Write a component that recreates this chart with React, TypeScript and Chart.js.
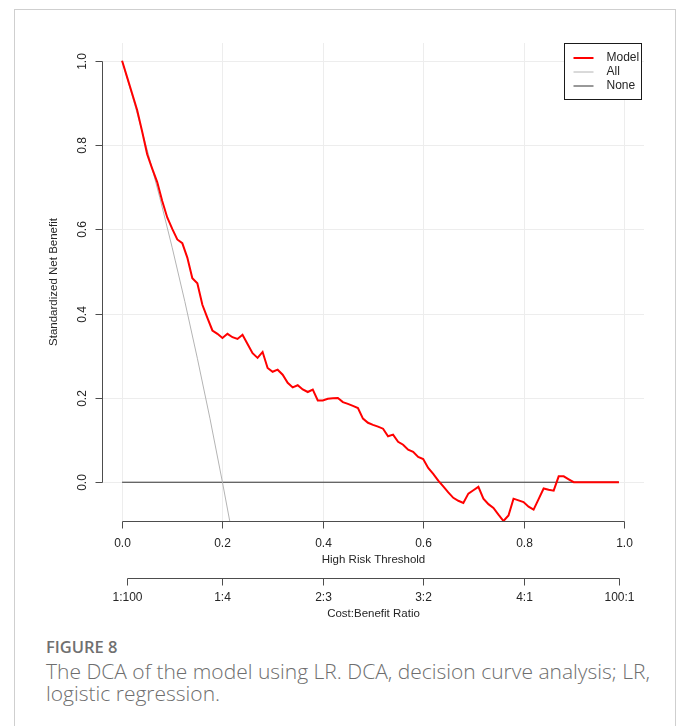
import React, { useEffect, useRef } from "react";
import { Chart, registerables } from "chart.js";

Chart.register(...registerables);

// Threshold probabilities for the model curve
const thresholds = [
  0.0, 0.01, 0.02, 0.03, 0.04, 0.05, 0.06, 0.07, 0.08, 0.09,
  0.1, 0.11, 0.12, 0.13, 0.14, 0.15, 0.16, 0.17, 0.18, 0.19,
  0.2, 0.21, 0.22, 0.23, 0.24, 0.25, 0.26, 0.27, 0.28, 0.29,
  0.3, 0.31, 0.32, 0.33, 0.34, 0.35, 0.36, 0.37, 0.38, 0.39,
  0.4, 0.41, 0.42, 0.43, 0.44, 0.45, 0.46, 0.47, 0.48, 0.49,
  0.5, 0.51, 0.52, 0.53, 0.54, 0.55, 0.56, 0.57, 0.58, 0.59,
  0.6, 0.61, 0.62, 0.63, 0.64, 0.65, 0.66, 0.67, 0.68, 0.69,
  0.7, 0.71, 0.72, 0.73, 0.74, 0.75, 0.76, 0.77, 0.78, 0.79,
  0.8, 0.81, 0.82, 0.83, 0.84, 0.85, 0.86, 0.87, 0.88, 0.89,
  0.9, 0.91, 0.92, 0.93, 0.94, 0.95, 0.96, 0.97, 0.98, 0.99,
];

// Standardized net benefit of the LR model
const modelBenefit = [
  1.0, 0.961, 0.922, 0.883, 0.832, 0.778, 0.744, 0.712, 0.667, 0.628,
  0.601, 0.576, 0.567, 0.533, 0.484, 0.472, 0.421, 0.39, 0.36, 0.352,
  0.342, 0.352, 0.344, 0.34, 0.35, 0.328, 0.306, 0.295, 0.309, 0.271,
  0.262, 0.267, 0.255, 0.236, 0.225, 0.23, 0.22, 0.214, 0.22, 0.194,
  0.194, 0.198, 0.199, 0.2, 0.19, 0.186, 0.181, 0.176, 0.151, 0.141,
  0.136, 0.132, 0.127, 0.109, 0.113, 0.096, 0.089, 0.077, 0.072, 0.06,
  0.055, 0.034, 0.02, 0.004, -0.01, -0.024, -0.037, -0.044, -0.049, -0.027,
  -0.019, -0.011, -0.039, -0.052, -0.061, -0.077, -0.092, -0.079, -0.039, -0.043,
  -0.047, -0.058, -0.065, -0.04, -0.015, -0.018, -0.02, 0.014, 0.014, 0.007,
  0.0, 0.0, 0.0, 0.0, 0.0, 0.0, 0.0, 0.0, 0.0, 0.0,
];

// Treat-all reference curve
const allThresholds = [0.0, 0.025, 0.05, 0.075, 0.1, 0.125, 0.15, 0.175, 0.2, 0.2145];
const allBenefit = [1.0, 0.897, 0.789, 0.676, 0.556, 0.429, 0.294, 0.152, 0.0, -0.092];

// Treat-none reference line
const noneThresholds = [0.0, 0.99];
const noneBenefit = [0.0, 0.0];

// Axis ticks
const xTicks = [0.0, 0.2, 0.4, 0.6, 0.8, 1.0];
const xTickLabels = ["0.0", "0.2", "0.4", "0.6", "0.8", "1.0"];
const yTicks = [0.0, 0.2, 0.4, 0.6, 0.8, 1.0];
const yTickLabels = ["0.0", "0.2", "0.4", "0.6", "0.8", "1.0"];
const costTicks = [0.0099, 0.2, 0.4, 0.6, 0.8, 0.9901];
const costTickLabels = ["1:100", "1:4", "2:3", "3:2", "4:1", "100:1"];

const legendLabels = ["Model", "All", "None"];
const seriesColors = ["#ff0000", "#b4b4b4", "#333333"];
const seriesWidths = [2, 1, 1];

const FONT = '"Liberation Sans", Arial, sans-serif';
const INK = "#262626";
const AXIS = "#4d4d4d";

const rAxesPlugin = {
  id: "rAxes",
  beforeDatasetsDraw(chart: any) {
    const { ctx, chartArea, scales } = chart;
    const xs = scales.x;
    const ys = scales.y;
    ctx.save();
    ctx.strokeStyle = "#ededed";
    ctx.lineWidth = 1;
    for (const v of xTicks) {
      const px = Math.round(xs.getPixelForValue(v)) + 0.5;
      ctx.beginPath();
      ctx.moveTo(px, chartArea.top);
      ctx.lineTo(px, chartArea.bottom);
      ctx.stroke();
    }
    for (const v of yTicks) {
      const py = Math.round(ys.getPixelForValue(v)) + 0.5;
      ctx.beginPath();
      ctx.moveTo(chartArea.left, py);
      ctx.lineTo(chartArea.right, py);
      ctx.stroke();
    }
    ctx.restore();
  },
  afterDraw(chart: any) {
    const { ctx, chartArea, scales } = chart;
    const xs = scales.x;
    const ys = scales.y;
    ctx.save();
    ctx.strokeStyle = AXIS;
    ctx.lineWidth = 1;
    ctx.fillStyle = INK;

    // y axis
    const ax = Math.round(chartArea.left) + 0.5;
    const y0 = Math.round(ys.getPixelForValue(yTicks[0])) + 0.5;
    const y1 = Math.round(ys.getPixelForValue(yTicks[yTicks.length - 1])) + 0.5;
    ctx.beginPath();
    ctx.moveTo(ax, y0);
    ctx.lineTo(ax, y1);
    ctx.stroke();
    ctx.font = `12px ${FONT}`;
    ctx.textAlign = "center";
    ctx.textBaseline = "middle";
    yTicks.forEach((v, i) => {
      const py = Math.round(ys.getPixelForValue(v)) + 0.5;
      ctx.beginPath();
      ctx.moveTo(ax - 7, py);
      ctx.lineTo(ax, py);
      ctx.stroke();
      ctx.save();
      ctx.translate(ax - 20, py);
      ctx.rotate(-Math.PI / 2);
      ctx.fillText(yTickLabels[i], 0, 0);
      ctx.restore();
    });
    ctx.save();
    ctx.font = `11.5px ${FONT}`;
    ctx.translate(ax - 49, (chartArea.top + chartArea.bottom) / 2);
    ctx.rotate(-Math.PI / 2);
    ctx.fillText("Standardized Net Benefit", 0, 0);
    ctx.restore();

    // threshold axis
    const by = Math.round(chartArea.bottom) + 0.5;
    const xa = Math.round(xs.getPixelForValue(xTicks[0])) + 0.5;
    const xb = Math.round(xs.getPixelForValue(xTicks[xTicks.length - 1])) + 0.5;
    ctx.beginPath();
    ctx.moveTo(xa, by);
    ctx.lineTo(xb, by);
    ctx.stroke();
    ctx.font = `12px ${FONT}`;
    xTicks.forEach((v, i) => {
      const px = Math.round(xs.getPixelForValue(v)) + 0.5;
      ctx.beginPath();
      ctx.moveTo(px, by);
      ctx.lineTo(px, by + 7);
      ctx.stroke();
      ctx.fillText(xTickLabels[i], px, by + 22);
    });
    ctx.font = `11.5px ${FONT}`;
    ctx.fillText("High Risk Threshold", (xa + xb) / 2, by + 38);

    // cost:benefit axis
    const cy = by + 57;
    const ca = Math.round(xs.getPixelForValue(costTicks[0])) + 0.5;
    const cb = Math.round(xs.getPixelForValue(costTicks[costTicks.length - 1])) + 0.5;
    ctx.beginPath();
    ctx.moveTo(ca, cy);
    ctx.lineTo(cb, cy);
    ctx.stroke();
    ctx.font = `12px ${FONT}`;
    costTicks.forEach((v, i) => {
      const px = Math.round(xs.getPixelForValue(v)) + 0.5;
      ctx.beginPath();
      ctx.moveTo(px, cy);
      ctx.lineTo(px, cy + 7);
      ctx.stroke();
      ctx.fillText(costTickLabels[i], px, cy + 19);
    });
    ctx.font = `11.5px ${FONT}`;
    ctx.fillText("Cost:Benefit Ratio", (xa + xb) / 2, cy + 35);

    // legend box
    const lw = 77;
    const lh = 56;
    const lx = Math.round(chartArea.right - 3 - lw) + 0.5;
    const ly = Math.round(chartArea.top) + 0.5;
    ctx.strokeStyle = "#1a1a1a";
    ctx.fillStyle = "#ffffff";
    ctx.fillRect(lx, ly, lw, lh);
    ctx.strokeRect(lx, ly, lw, lh);
    ctx.font = `12px ${FONT}`;
    ctx.textAlign = "left";
    legendLabels.forEach((label, i) => {
      const ry = Math.round(ly + 14 + i * 14);
      ctx.strokeStyle = seriesColors[i];
      ctx.lineWidth = seriesWidths[i];
      ctx.beginPath();
      ctx.moveTo(lx + 9, ry);
      ctx.lineTo(lx + 29, ry);
      ctx.stroke();
      ctx.fillStyle = INK;
      ctx.fillText(label, lx + 42, ry);
    });
    ctx.restore();
  },
};

const toPoints = (xsArr: number[], ysArr: number[]) =>
  xsArr.map((x, i) => ({ x, y: ysArr[i] }));

export default function App() {
  const canvasRef = useRef<HTMLCanvasElement | null>(null);

  useEffect(() => {
    if (!canvasRef.current) return;
    const chart = new Chart(canvasRef.current, {
      type: "line",
      data: {
        datasets: [
          {
            label: legendLabels[0],
            data: toPoints(thresholds, modelBenefit),
            borderColor: seriesColors[0],
            borderWidth: seriesWidths[0],
            pointRadius: 0,
            tension: 0,
            fill: false,
          },
          {
            label: legendLabels[1],
            data: toPoints(allThresholds, allBenefit),
            borderColor: seriesColors[1],
            borderWidth: seriesWidths[1],
            pointRadius: 0,
            tension: 0,
            fill: false,
          },
          {
            label: legendLabels[2],
            data: toPoints(noneThresholds, noneBenefit),
            borderColor: seriesColors[2],
            borderWidth: seriesWidths[2],
            pointRadius: 0,
            tension: 0,
            fill: false,
          },
        ],
      },
      options: {
        responsive: false,
        animation: false,
        parsing: false as any,
        layout: { padding: { left: 87, right: 31, top: 33, bottom: 109 } },
        scales: {
          x: { type: "linear", min: -0.04, max: 1.04, display: false },
          y: { type: "linear", min: -0.092, max: 1.042, display: false },
        },
        plugins: {
          legend: { display: false },
          tooltip: { enabled: false },
        },
      },
      plugins: [rAxesPlugin],
    });
    return () => chart.destroy();
  }, []);

  return (
    <div
      style={{
        position: "absolute",
        left: 14,
        top: 9,
        width: 660,
        height: 716,
        borderTop: "1px solid #cfcfcf",
        borderLeft: "1px solid #cfcfcf",
        borderRight: "1px solid #cfcfcf",
        background: "#ffffff",
      }}
    >
      <canvas
        ref={canvasRef}
        width={660}
        height={620}
        style={{ position: "absolute", left: 0, top: 0, width: 660, height: 620 }}
      />
      <div
        style={{
          position: "absolute",
          left: 31,
          top: 627,
          width: 625,
          fontFamily: '"Open Sans", "Noto Sans", sans-serif',
          color: "#6e6e6e",
        }}
      >
        <div style={{ fontSize: 16.5, lineHeight: "20px", fontWeight: 600, color: "#707070" }}>
          FIGURE 8
        </div>
        <div style={{ fontSize: 21, lineHeight: "22px", fontWeight: 300, marginTop: 3 }}>
          The DCA of the model using LR. DCA, decision curve analysis; LR, logistic regression.
        </div>
      </div>
    </div>
  );
}
